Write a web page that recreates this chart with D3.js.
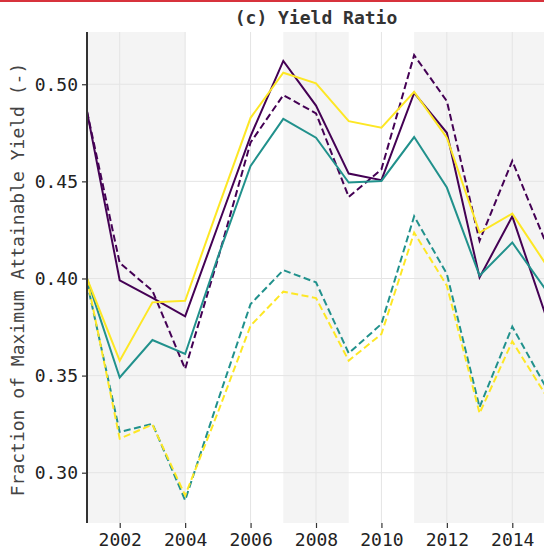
<!DOCTYPE html>
<html>
<head>
<meta charset="utf-8">
<script src="https://cdn.jsdelivr.net/npm/d3@7"></script>
<style>
  html, body { margin: 0; padding: 0; background: #fff; }
  svg { display: block; }
  text { font-family: "DejaVu Sans Mono", monospace; }
</style>
</head>
<body>
<svg id="chart" width="544" height="555"></svg>
<script>
// Years on the x axis
const years = [2001, 2002, 2003, 2004, 2005, 2006, 2007, 2008, 2009, 2010, 2011, 2012, 2013, 2014, 2015];

// Yield ratio series (fraction of maximum attainable yield)
const purpleSolid  = [0.486, 0.399, 0.390, 0.3805, 0.427, 0.4733, 0.512, 0.489, 0.454, 0.4506, 0.4955, 0.475, 0.4005, 0.432, 0.382];
const purpleDashed = [0.486, 0.408, 0.3937, 0.3534, 0.410, 0.470, 0.4944, 0.485, 0.442, 0.4562, 0.515, 0.4913, 0.4194, 0.4605, 0.4194];
const tealSolid    = [0.400, 0.349, 0.3683, 0.3611, 0.411, 0.4579, 0.4822, 0.4725, 0.4494, 0.4502, 0.4728, 0.4468, 0.4014, 0.4185, 0.3947];
const tealDashed   = [0.398, 0.3209, 0.3252, 0.2858, 0.337, 0.3868, 0.4043, 0.398, 0.3615, 0.3766, 0.4320, 0.4023, 0.3337, 0.3752, 0.3449];
const yellowSolid  = [0.400, 0.3577, 0.3877, 0.3885, 0.436, 0.4827, 0.5059, 0.5005, 0.481, 0.4776, 0.4961, 0.4725, 0.4236, 0.4334, 0.408];
const yellowDashed = [0.400, 0.3175, 0.3248, 0.2883, 0.331, 0.3757, 0.3932, 0.3899, 0.3577, 0.3714, 0.4236, 0.3963, 0.3306, 0.3676, 0.3406];

// Shaded periods [start, end]
const shadedPeriods = [[2000.5, 2004], [2007, 2009], [2011, 2016]];

// Tick values
const xTicks = [2002, 2004, 2006, 2008, 2010, 2012, 2014];
const yTicks = [0.30, 0.35, 0.40, 0.45, 0.50];

const series = [
  { values: purpleSolid,  color: "#440154", dashed: false },
  { values: purpleDashed, color: "#440154", dashed: true },
  { values: tealSolid,    color: "#21918c", dashed: false },
  { values: tealDashed,   color: "#21918c", dashed: true },
  { values: yellowSolid,  color: "#fde725", dashed: false },
  { values: yellowDashed, color: "#fde725", dashed: true }
];

const svg = d3.select("#chart");
const margin = { left: 87, right: 545, top: 32, bottom: 523 };

const x = d3.scaleLinear().domain([2001, 2015]).range([margin.left, margin.right]);
const y = d3.scaleLinear().domain([0.2741, 0.5269]).range([margin.bottom, margin.top]);

// Top accent bar
svg.append("rect").attr("x", 0).attr("y", 0).attr("width", 544).attr("height", 2).attr("fill", "#d7323c");

const plot = svg.append("g");
plot.append("clipPath").attr("id", "clip")
  .append("rect")
  .attr("x", margin.left).attr("y", margin.top)
  .attr("width", margin.right - margin.left).attr("height", margin.bottom - margin.top);

// Shaded bands
plot.append("g").attr("clip-path", "url(#clip)")
  .selectAll("rect").data(shadedPeriods).join("rect")
  .attr("x", d => x(d[0]))
  .attr("width", d => x(d[1]) - x(d[0]))
  .attr("y", margin.top)
  .attr("height", margin.bottom - margin.top)
  .attr("fill", "#f4f4f4");

// Grid lines
const grid = plot.append("g").attr("stroke", "#e4e4e4").attr("stroke-width", 1);
grid.selectAll(".gx").data(xTicks).join("line")
  .attr("x1", d => x(d)).attr("x2", d => x(d))
  .attr("y1", margin.top).attr("y2", margin.bottom);
grid.selectAll(".gy").data(yTicks).join("line")
  .attr("y1", d => y(d)).attr("y2", d => y(d))
  .attr("x1", margin.left).attr("x2", margin.right);

// Lines
const line = d3.line().x((d, i) => x(years[i])).y(d => y(d));
plot.append("g").attr("clip-path", "url(#clip)")
  .selectAll("path").data(series).join("path")
  .attr("d", d => line(d.values))
  .attr("fill", "none")
  .attr("stroke", d => d.color)
  .attr("stroke-width", 2)
  .attr("stroke-linejoin", "miter")
  .attr("stroke-dasharray", d => d.dashed ? "7,3.5" : null);

// Y axis
const yAxis = svg.append("g")
  .attr("transform", `translate(${margin.left},0)`)
  .call(d3.axisLeft(y).tickValues(yTicks).tickFormat(d3.format(".2f")).tickSize(5).tickPadding(4));
yAxis.select(".domain").attr("stroke", "#333").attr("stroke-width", 2)
  .attr("d", `M0,${margin.top}V${margin.bottom}`);
yAxis.selectAll(".tick line").attr("stroke", "#333").attr("stroke-width", 1.2);
yAxis.selectAll(".tick text").attr("font-size", 18).attr("fill", "#222")
  .attr("font-family", "DejaVu Sans Mono, monospace");

// X axis
const xAxis = svg.append("g")
  .attr("transform", `translate(0,${margin.bottom})`)
  .call(d3.axisBottom(x).tickValues(xTicks).tickFormat(d3.format("d")).tickSize(5).tickPadding(5));
xAxis.select(".domain").remove();
xAxis.selectAll(".tick line").attr("stroke", "#333").attr("stroke-width", 1.2);
xAxis.selectAll(".tick text").attr("font-size", 18).attr("fill", "#222")
  .attr("font-family", "DejaVu Sans Mono, monospace");

// Title
svg.append("text")
  .attr("x", 316).attr("y", 24)
  .attr("text-anchor", "middle")
  .attr("font-size", 18).attr("font-weight", "bold").attr("fill", "#333")
  .text("(c) Yield Ratio");

// Y axis label
svg.append("text")
  .attr("transform", `translate(24,${(margin.top + margin.bottom) / 2 + 2}) rotate(-90)`)
  .attr("text-anchor", "middle")
  .attr("font-size", 18).attr("fill", "#444")
  .text("Fraction of Maximum Attainable Yield (-)");
</script>
</body>
</html>
